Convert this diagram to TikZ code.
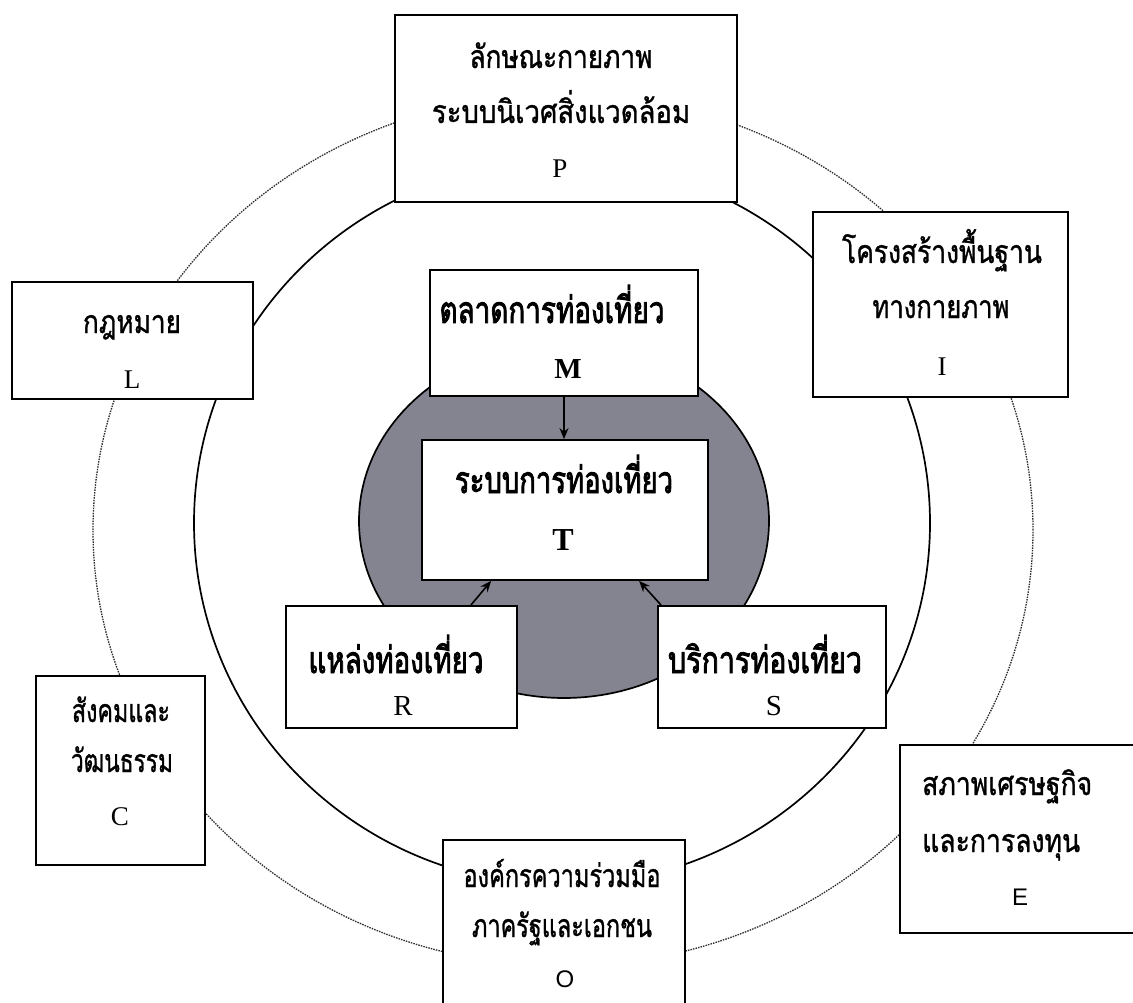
\documentclass[tikz,border=0pt]{standalone}
\usepackage{fontspec}
\usepackage{graphicx}
\setmainfont{Liberation Serif}
\newfontfamily\thai[Script=Thai,FakeBold=1.2]{Loma}
\newfontfamily\thaiin[Script=Thai,FakeBold=2.6]{Loma}
\newfontfamily\latsans{Liberation Sans}
\usetikzlibrary{arrows.meta,calc}
\definecolor{discgrey}{RGB}{132,132,144}
\definecolor{dotgrey}{RGB}{45,45,45}
\newcommand{\tw}[2]{\resizebox{#1pt}{\height}{\thai #2}}
\newcommand{\twb}[2]{\resizebox{#1pt}{\height}{\thaiin #2}}
\begin{document}
\begin{tikzpicture}[x=1pt,y=-1pt,
  box/.style={draw, fill=white, line width=1.8pt, inner sep=0pt},
  tl/.style={anchor=base, inner sep=0pt, font=\fontsize{32}{32}\selectfont},
  tb/.style={anchor=base, inner sep=0pt, font=\fontsize{37}{37}\selectfont},
  lat/.style={anchor=base, inner sep=0pt, font=\fontsize{27}{27}\selectfont},
  latb/.style={anchor=base, inner sep=0pt, font=\fontsize{29}{29}\selectfont\bfseries},
  lats/.style={anchor=base, inner sep=0pt, font=\fontsize{24}{24}\selectfont\latsans},
  outerring/.style={draw=dotgrey, line width=1.3pt, dash pattern=on 1.5pt off 1.1pt},
  innerring/.style={draw, line width=1.7pt},
  disc/.style={draw, fill=discgrey, line width=1.7pt},
  arr/.style={line width=1.6pt, -{Stealth[length=11pt,width=9pt]}}
]
\useasboundingbox (0,0) rectangle (1133,1003);
\clip (0,0) rectangle (1133,1003);
\fill[white] (0,0) rectangle (1133,1003);

% rings
\draw[outerring] (563,530) ellipse [x radius=470pt, y radius=436pt];
\draw[innerring] (562,523) ellipse [x radius=368pt, y radius=362pt];
\draw[disc] (564,521) ellipse [x radius=205pt, y radius=177pt];

% boxes
\node[box, minimum width=342pt, minimum height=187pt] (P) at (566,108.5) {};
\node[box, minimum width=255pt, minimum height=185pt] (I) at (940.5,304.5) {};
\node[box, minimum width=241pt, minimum height=117pt] (L) at (132.5,340.5) {};
\node[box, minimum width=268pt, minimum height=126pt] (M) at (564,333) {};
\node[box, minimum width=286pt, minimum height=140pt] (T) at (565,510) {};
\node[box, minimum width=231pt, minimum height=122pt] (R) at (401.5,667) {};
\node[box, minimum width=228pt, minimum height=122pt] (S) at (772,667) {};
\node[box, minimum width=169pt, minimum height=189pt] (C) at (120.5,770.5) {};
\node[box, minimum width=260pt, minimum height=188pt] (E) at (1030,839) {};
\node[box, minimum width=242pt, minimum height=190pt] (O) at (564,935) {};

% arrows
\draw[arr] (M.south) -- (M.south |- T.north);
\draw[arr] ($(R.north east)+(-47,0)$) -- ($(T.south west)+(70,0)$);
\draw[arr] ($(S.north west)+(4,0)$) -- ($(T.south west)+(218,0)$);

% texts P
\node[tl] (p1) at (561,68) {\tw{183}{ลักษณะกายภาพ}};
\node[tl] (p2) at (561,123) {\tw{258}{ระบบนิเวศสิ่งแวดล้อม}};
\node[lat] (p3) at (560,178) {P};
% I
\node[tl] (i1) at (942,263) {\tw{200}{โครงสร้างพื้นฐาน}};
\node[tl] (i2) at (941,318) {\tw{137}{ทางกายภาพ}};
\node[lat] (i3) at (942,375) {I};
% L
\node[tl] (l1) at (132,333) {\tw{98}{กฎหมาย}};
\node[lat] (l2) at (132,388) {L};
% M
\node[tb] (m1) at (552,323) {\twb{225}{ตลาดการท่องเที่ยว}};
\node[latb] (m2) at (568,378) {M};
% T
\node[tb] (t1) at (564,493) {\twb{218}{ระบบการท่องเที่ยว}};
\node[latb, font=\fontsize{32}{32}\selectfont\bfseries] (t2) at (563,550) {T};
% R
\node[tb] (r1) at (396,673) {\twb{175}{แหล่งท่องเที่ยว}};
\node[lat, font=\fontsize{29}{29}\selectfont] (r2) at (403,715) {R};
% S
\node[tb] (s1) at (765,673) {\twb{194}{บริการท่องเที่ยว}};
\node[lat, font=\fontsize{29}{29}\selectfont] (s2) at (774,715) {S};
% C
\node[tl] (c1) at (121,722) {\tw{98}{สังคมและ}};
\node[tl] (c2) at (122,772) {\tw{102}{วัฒนธรรม}};
\node[lat] (c3) at (120,825) {C};
% E
\node[tl, anchor=base west] (e1) at (922,795) {\tw{170}{สภาพเศรษฐกิจ}};
\node[tl, anchor=base west] (e2) at (922,852) {\tw{158}{และการลงทุน}};
\node[lats] (e3) at (1020,905) {E};
% O
\node[tl] (o1) at (562,887) {\tw{197}{องค์กรความร่วมมือ}};
\node[tl] (o2) at (562,937) {\tw{180}{ภาครัฐและเอกชน}};
\node[lats] (o3) at (565,987) {O};
\end{tikzpicture}
\end{document}
